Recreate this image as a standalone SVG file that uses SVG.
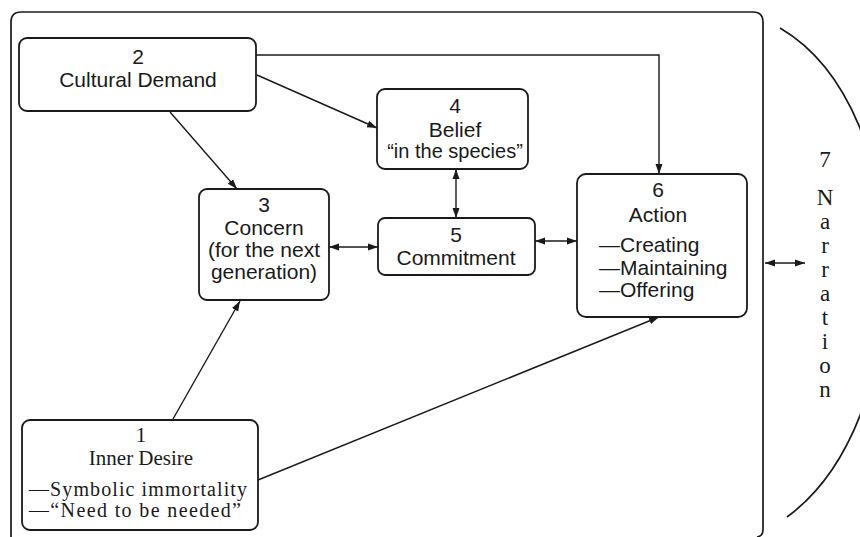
<svg xmlns="http://www.w3.org/2000/svg" width="860" height="537" viewBox="0 0 860 537">
<style>
.box{fill:#fff;stroke:#1a1a1a;stroke-width:1.8}
.ln{fill:none;stroke:#1a1a1a;stroke-width:1.4}
.t{font-family:"Liberation Sans",Arial,sans-serif;font-size:21px;fill:#1a1a1a;text-anchor:middle}
.s{font-family:"Liberation Serif","Times New Roman",serif;font-size:21px;fill:#1a1a1a;text-anchor:middle}
.l{text-anchor:start}
.n{font-size:23px}
</style>
<defs>
<marker id="ah" viewBox="0 0 10 8" refX="10" refY="4" markerWidth="10" markerHeight="8" markerUnits="userSpaceOnUse" orient="auto-start-reverse">
<path d="M0,0.5 L10,4 L0,7.5 Z" fill="#1a1a1a"/>
</marker>
</defs>
<rect width="860" height="537" fill="#fff"/>
<g id="frame">
<path class="ln" style="stroke-width:1.7" d="M11,537 V22 Q11,12 21,12 H753 Q763,12 763,22 V530 Q763,536 757,537"/>
<path class="ln" style="stroke-width:1.7" d="M780,28 C920,110 920,420 787,517"/>
</g>
<g id="connectors">
<path class="ln" d="M256,55 H659 V174" marker-end="url(#ah)"/>
<path class="ln" d="M257,75 L377,128" marker-end="url(#ah)"/>
<path class="ln" d="M170,112 L237,189" marker-end="url(#ah)"/>
<path class="ln" d="M173,419 L240,301" marker-end="url(#ah)"/>
<path class="ln" d="M258,480 L659,317" marker-end="url(#ah)"/>
<path class="ln" d="M329,247 H378" marker-start="url(#ah)" marker-end="url(#ah)"/>
<path class="ln" d="M535,241 H577" marker-start="url(#ah)" marker-end="url(#ah)"/>
<path class="ln" d="M456,169 V218" marker-start="url(#ah)" marker-end="url(#ah)"/>
<path class="ln" d="M765,263 H805" marker-start="url(#ah)" marker-end="url(#ah)"/>
</g>
<g id="node2">
<rect class="box" x="19" y="38" width="237" height="73" rx="8"/>
<text class="t" x="138" y="64">2</text>
<text class="t" x="138" y="87">Cultural Demand</text>
</g>
<g id="node4">
<rect class="box" x="377" y="89" width="151" height="80" rx="8"/>
<text class="t" x="455" y="113">4</text>
<text class="t" x="455" y="137">Belief</text>
<text class="t" x="455" y="158" style="font-size:20px">“in the species”</text>
</g>
<g id="node3">
<rect class="box" x="199" y="189" width="130" height="111" rx="8"/>
<text class="t" x="264" y="212">3</text>
<text class="t" x="264" y="235">Concern</text>
<text class="t" x="264" y="257">(for the next</text>
<text class="t" x="264" y="279">generation)</text>
</g>
<g id="node5">
<rect class="box" x="378" y="218" width="157" height="57" rx="7"/>
<text class="t" x="456" y="242">5</text>
<text class="t" x="456" y="265">Commitment</text>
</g>
<g id="node6">
<rect class="box" x="577" y="174" width="170" height="143" rx="9"/>
<text class="t" x="658" y="197">6</text>
<text class="t" x="658" y="222">Action</text>
<text class="t l" x="599" y="252">—Creating</text>
<text class="t l" x="599" y="275">—Maintaining</text>
<text class="t l" x="599" y="297">—Offering</text>
</g>
<g id="node1">
<rect class="box" x="22" y="420" width="236" height="110" rx="8"/>
<text class="s" x="141" y="442">1</text>
<text class="s" x="141" y="465">Inner Desire</text>
<text class="s l" x="29" y="496" style="font-size:20px" textLength="218" lengthAdjust="spacing">—Symbolic immortality</text>
<text class="s l" x="29" y="517" style="font-size:20px" textLength="212" lengthAdjust="spacing">—“Need to be needed”</text>
</g>
<g id="node7">
<text class="s n" x="825" y="167">7</text>
<text class="s n" x="825" y="205">N</text>
<text class="s n" x="825" y="229">a</text>
<text class="s n" x="825" y="253">r</text>
<text class="s n" x="825" y="277">r</text>
<text class="s n" x="825" y="301">a</text>
<text class="s n" x="825" y="325">t</text>
<text class="s n" x="825" y="349">i</text>
<text class="s n" x="825" y="373">o</text>
<text class="s n" x="825" y="397">n</text>
</g>
</svg>
